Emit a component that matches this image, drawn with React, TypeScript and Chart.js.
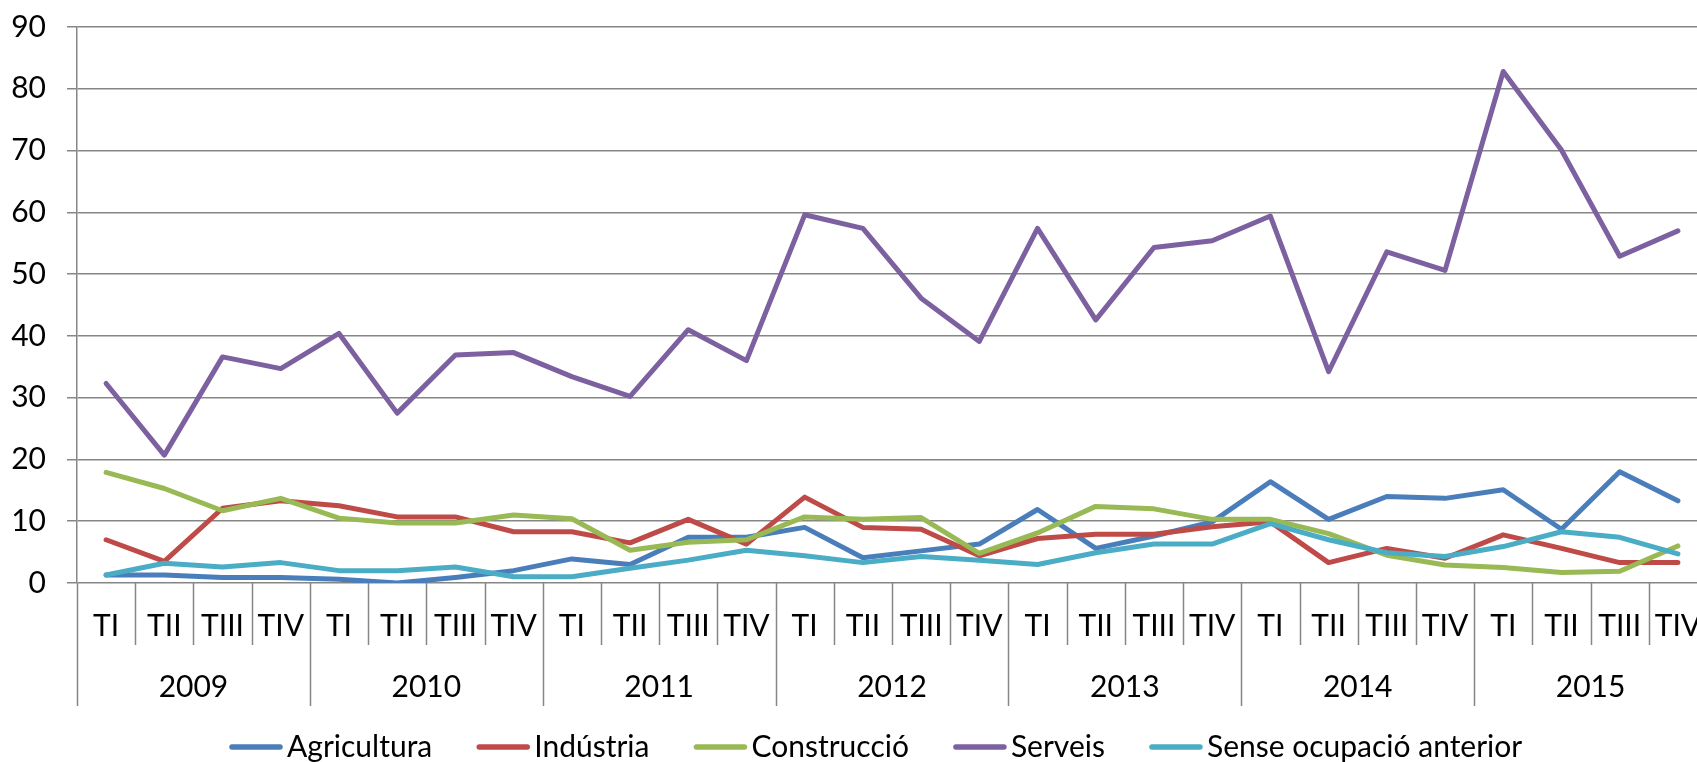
import React, { useEffect, useRef } from "react";
import { Chart, registerables } from "chart.js";

Chart.register(...registerables);

const quarterLabels = ["TI", "TII", "TIII", "TIV"];
const yearLabels = ["2009", "2010", "2011", "2012", "2013", "2014", "2015"];

const agricultura = [
  1.3, 1.3, 0.9, 0.9, 0.6, 0.0, 0.9, 2.0, 3.9, 3.0, 7.4, 7.4, 9.0, 4.1,
  5.2, 6.3, 11.9, 5.6, 7.6, 9.9, 16.4, 10.3, 14.0, 13.7, 15.1, 8.7, 18.0, 13.3,
];
const industria = [
  7.0, 3.5, 12.1, 13.3, 12.5, 10.7, 10.7, 8.3, 8.3, 6.5, 10.3, 6.3, 13.9, 9.0,
  8.7, 4.4, 7.2, 7.9, 7.9, 9.1, 9.9, 3.3, 5.6, 4.0, 7.8, 5.6, 3.3, 3.3,
];
const construccio = [
  17.9, 15.3, 11.7, 13.7, 10.5, 9.7, 9.7, 11.0, 10.4, 5.3, 6.6, 7.0, 10.7, 10.3,
  10.6, 4.8, 8.1, 12.4, 12.0, 10.3, 10.3, 8.0, 4.5, 2.9, 2.5, 1.7, 1.9, 6.0,
];
const serveis = [
  32.3, 20.7, 36.6, 34.7, 40.4, 27.5, 36.9, 37.3, 33.4, 30.2, 41.0, 36.0, 59.6, 57.4,
  46.1, 39.1, 57.4, 42.6, 54.3, 55.4, 59.4, 34.2, 53.6, 50.6, 82.8, 70.1, 52.9, 57.0,
];
const senseOcupacio = [
  1.3, 3.2, 2.6, 3.3, 2.0, 2.0, 2.6, 1.0, 1.0, 2.4, 3.7, 5.3, 4.4, 3.3,
  4.3, 3.7, 3.0, 4.9, 6.3, 6.3, 9.6, 7.0, 4.9, 4.3, 5.9, 8.3, 7.4, 4.7,
];

const seriesNames = ["Agricultura", "Indústria", "Construcció", "Serveis", "Sense ocupació anterior"];
const seriesColors = ["#4A7EBB", "#BE4B48", "#98B954", "#7D60A0", "#4BACC6"];

const FONT = "Lato";
const FONT_SIZE = 30;
const AXIS_COLOR = "#868686";

export default function App() {
  const canvasRef = useRef<HTMLCanvasElement | null>(null);

  useEffect(() => {
    const canvas = canvasRef.current;
    if (!canvas) return;

    const categories: string[] = [];
    yearLabels.forEach((y) => quarterLabels.forEach((q) => categories.push(y + " " + q)));

    const seriesData = [agricultura, industria, construccio, serveis, senseOcupacio];

    const axisPlugin = {
      id: "twoLevelAxis",
      afterDraw(chart: any) {
        const ctx = chart.ctx;
        const area = chart.chartArea;
        const xs = chart.scales.x;
        const n = categories.length;
        const w = (area.right - area.left) / n;
        ctx.save();
        ctx.strokeStyle = AXIS_COLOR;
        ctx.lineWidth = 1.5;
        for (let i = 0; i <= n; i++) {
          const x = Math.round(area.left + i * w) + 0.5;
          const isYear = i % quarterLabels.length === 0;
          ctx.beginPath();
          ctx.moveTo(x, area.bottom);
          ctx.lineTo(x, area.bottom + (isYear ? 123 : 62));
          ctx.stroke();
        }
        ctx.fillStyle = "#000";
        ctx.font = `${FONT_SIZE}px ${FONT}`;
        ctx.textAlign = "center";
        ctx.textBaseline = "middle";
        for (let i = 0; i < n; i++) {
          const x = xs.getPixelForValue(i);
          ctx.fillText(quarterLabels[i % quarterLabels.length], x, area.bottom + 43);
        }
        yearLabels.forEach((y, k) => {
          const x = area.left + (k * quarterLabels.length + quarterLabels.length / 2) * w;
          ctx.fillText(y, x, area.bottom + 104);
        });
        // legend
        const lineLen = 54;
        const lineGap = 4;
        const itemGap = 44;
        const legendY = 747;
        let x = 229;
        ctx.textAlign = "left";
        ctx.lineCap = "round";
        seriesNames.forEach((name, i) => {
          ctx.strokeStyle = seriesColors[i];
          ctx.lineWidth = 5.5;
          ctx.beginPath();
          ctx.moveTo(x + 3, legendY);
          ctx.lineTo(x + lineLen - 3, legendY);
          ctx.stroke();
          x += lineLen + lineGap;
          ctx.fillText(name, x, legendY);
          x += ctx.measureText(name).width + itemGap;
        });
        ctx.restore();
      },
    };

    const chart = new Chart(canvas, {
      type: "line",
      data: {
        labels: categories,
        datasets: seriesNames.map((name, i) => ({
          label: name,
          data: seriesData[i],
          borderColor: seriesColors[i],
          backgroundColor: seriesColors[i],
          borderWidth: 5,
          pointRadius: 0,
          tension: 0,
          borderJoinStyle: "round" as const,
          borderCapStyle: "round" as const,
          order: seriesNames.length - i,
        })),
      },
      options: {
        animation: false,
        responsive: false,
        devicePixelRatio: 1,
        layout: { padding: { top: 27, bottom: 762 - 583, right: 13, left: 0 } },
        plugins: { legend: { display: false }, tooltip: { enabled: false } },
        scales: {
          x: { type: "category", display: false, offset: true },
          y: {
            min: 0,
            max: 90,
            ticks: {
              stepSize: 10,
              color: "#000",
              padding: 21,
              font: { family: FONT, size: FONT_SIZE },
            },
            grid: { color: AXIS_COLOR, lineWidth: 1.5, tickLength: 10 },
            border: { display: true, color: AXIS_COLOR, width: 1.5 },
            afterFit: (scale: any) => {
              scale.width = 77;
              scale.paddingTop = 0;
              scale.paddingBottom = 0;
            },
          },
        },
      },
      plugins: [axisPlugin],
    });

    return () => chart.destroy();
  }, []);

  return (
    <div
      style={{
        position: "fixed",
        left: 0,
        top: 0,
        width: 1697,
        height: 762,
        overflow: "hidden",
        background: "#fff",
      }}
    >
      <canvas ref={canvasRef} width={1720} height={762} style={{ width: 1720, height: 762, display: "block" }} />
    </div>
  );
}
